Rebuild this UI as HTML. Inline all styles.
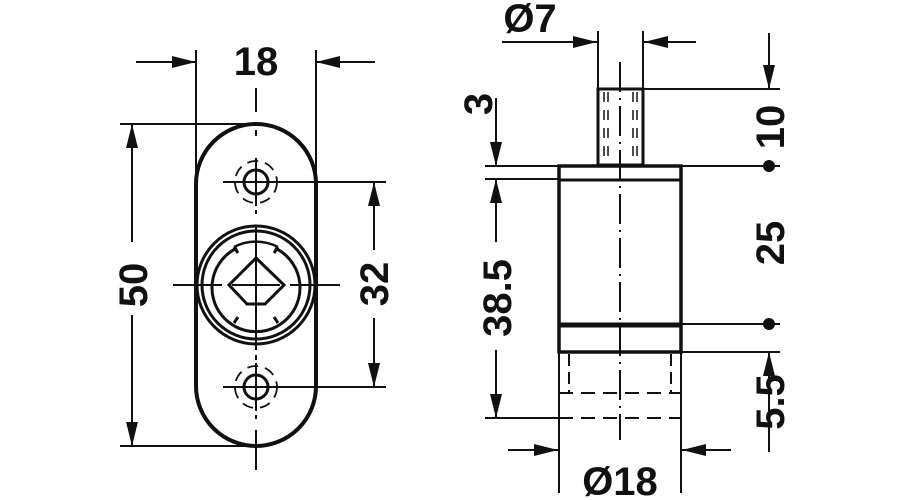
<!DOCTYPE html>
<html><head><meta charset="utf-8"><style>
html,body{margin:0;padding:0;background:#fff;width:900px;height:500px;overflow:hidden}
text{font-family:"Liberation Sans",sans-serif;font-weight:bold;font-size:40px;fill:#111}
</style></head><body>
<svg width="900" height="500" viewBox="0 0 900 500" xmlns="http://www.w3.org/2000/svg">
<defs>
<marker id="a" viewBox="0 0 24 12" refX="24" refY="6" markerWidth="24" markerHeight="12" markerUnits="userSpaceOnUse" orient="auto"><path d="M0,0L24,6L0,12z" fill="#111"/></marker>
</defs>
<g stroke="#111" stroke-width="2" fill="none">
<!-- LEFT VIEW -->
<path d="M196,184 A60,60 0 0 1 316,184 L316,386 A60,60 0 0 1 196,386 Z" stroke-width="4"/>
<line x1="196" y1="50" x2="196" y2="184"/><line x1="316" y1="50" x2="316" y2="184"/>
<line x1="136" y1="62" x2="196" y2="62" marker-end="url(#a)"/>
<line x1="375" y1="62" x2="316" y2="62" marker-end="url(#a)"/>
<line x1="120" y1="124" x2="256" y2="124"/><line x1="120" y1="446" x2="256" y2="446"/>
<line x1="132" y1="242" x2="132" y2="124" marker-end="url(#a)"/>
<line x1="132" y1="315" x2="132" y2="446" marker-end="url(#a)"/>
<line x1="280" y1="182" x2="386" y2="182"/><line x1="280" y1="387" x2="386" y2="387"/>
<line x1="374" y1="250" x2="374" y2="182" marker-end="url(#a)"/>
<line x1="374" y1="318" x2="374" y2="387" marker-end="url(#a)"/>
<line x1="256" y1="88" x2="256" y2="112"/><line x1="256" y1="130" x2="256" y2="136" />
<line x1="256" y1="158" x2="256" y2="206"/><line x1="256" y1="210" x2="256" y2="214"/>
<line x1="256" y1="225" x2="256" y2="350"/><line x1="256" y1="355" x2="256" y2="360"/>
<line x1="256" y1="363" x2="256" y2="411"/><line x1="256" y1="415" x2="256" y2="419"/>
<line x1="256" y1="430" x2="256" y2="470"/>
<line x1="173" y1="285" x2="222" y2="285"/><line x1="232" y1="285" x2="280" y2="285"/><line x1="290" y1="285" x2="340" y2="285"/>
<line x1="223" y1="182" x2="280" y2="182"/><line x1="223" y1="387" x2="280" y2="387"/>
<circle cx="256" cy="182" r="12" stroke-width="3"/><circle cx="256" cy="387" r="12" stroke-width="3"/>
<circle cx="256" cy="182" r="21" stroke-dasharray="11,7" stroke-width="1.8"/>
<circle cx="256" cy="387" r="21" stroke-dasharray="11,7" stroke-width="1.8"/>
<circle cx="256" cy="285" r="59" stroke-width="3"/>
<circle cx="256" cy="285" r="54" stroke-width="3"/>
<path d="M237,248 A44,44 0 1 0 275,248" stroke-width="3"/>
<path d="M237,248 A44,44 0 0 1 237,248" stroke-width="3"/>
<path d="M234,247 A48,48 0 0 1 278,247" stroke-width="2.5"/>
<path d="M234,247 L238,253 M278,247 L274,253" stroke-width="3"/>
<path d="M234,323 L238,317 M278,323 L274,317" stroke-width="3"/>
<path d="M256,258 L284,285 L265,304 L247,304 L229,285 Z" stroke-width="3"/>
<!-- RIGHT VIEW -->
<rect x="598" y="89" width="45" height="76" stroke-width="3"/>
<g stroke-width="1.5">
<line x1="604" y1="92" x2="604" y2="160" stroke-dasharray="10,8"/><line x1="608" y1="92" x2="608" y2="160" stroke-dasharray="10,8"/>
<line x1="633" y1="92" x2="633" y2="160" stroke-dasharray="10,8"/><line x1="637" y1="92" x2="637" y2="160" stroke-dasharray="10,8"/>
</g>
<rect x="559" y="166" width="122" height="186" stroke-width="3.5"/>
<line x1="559" y1="180" x2="681" y2="180" stroke-width="3"/>
<line x1="559" y1="325" x2="681" y2="325" stroke-width="5"/>
<line x1="620" y1="62" x2="620" y2="440" stroke-dasharray="30,6,2,6"/>
<line x1="569" y1="354" x2="569" y2="393" stroke-dasharray="12,6"/>
<line x1="671" y1="354" x2="671" y2="393" stroke-dasharray="12,6"/>
<line x1="559" y1="393" x2="681" y2="393" stroke-dasharray="14,8"/>
<line x1="559" y1="418" x2="681" y2="418" stroke-dasharray="14,8"/>
<line x1="559" y1="352" x2="559" y2="493"/><line x1="681" y1="352" x2="681" y2="493"/>
<line x1="598" y1="31" x2="598" y2="89"/><line x1="643" y1="31" x2="643" y2="89"/>
<line x1="502" y1="42" x2="597" y2="42" marker-end="url(#a)"/>
<line x1="696" y1="42" x2="644" y2="42" marker-end="url(#a)"/>
<line x1="643" y1="89" x2="780" y2="89"/>
<line x1="485" y1="166" x2="780" y2="166"/>
<line x1="485" y1="179" x2="559" y2="179"/>
<line x1="681" y1="324" x2="780" y2="324"/>
<line x1="681" y1="352" x2="780" y2="352"/>
<line x1="485" y1="418" x2="559" y2="418"/>
<line x1="769" y1="33" x2="769" y2="89" marker-end="url(#a)"/>
<line x1="496" y1="98" x2="496" y2="166" marker-end="url(#a)"/>
<line x1="496" y1="242" x2="496" y2="179" marker-end="url(#a)"/>
<line x1="496" y1="350" x2="496" y2="418" marker-end="url(#a)"/>
<line x1="769" y1="452" x2="769" y2="352" marker-end="url(#a)"/>
<line x1="508" y1="450" x2="558" y2="450" marker-end="url(#a)"/>
<line x1="731" y1="450" x2="682" y2="450" marker-end="url(#a)"/>
</g>
<circle cx="769" cy="166" r="6" fill="#111"/>
<circle cx="769" cy="324" r="6" fill="#111"/>
<text x="256" y="75" text-anchor="middle">18</text>
<text transform="translate(147,285) rotate(-90)" text-anchor="middle">50</text>
<text transform="translate(388,284) rotate(-90)" text-anchor="middle">32</text>
<text x="530" y="32" text-anchor="middle">Ø7</text>
<text transform="translate(784,127) rotate(-90)" text-anchor="middle">10</text>
<text transform="translate(492,104) rotate(-90)" text-anchor="middle">3</text>
<text transform="translate(511,298) rotate(-90)" text-anchor="middle">38.5</text>
<text transform="translate(784,243) rotate(-90)" text-anchor="middle">25</text>
<text transform="translate(784,402) rotate(-90)" text-anchor="middle">5.5</text>
<text x="620" y="495" text-anchor="middle">Ø18</text>
</svg>
</body></html>
